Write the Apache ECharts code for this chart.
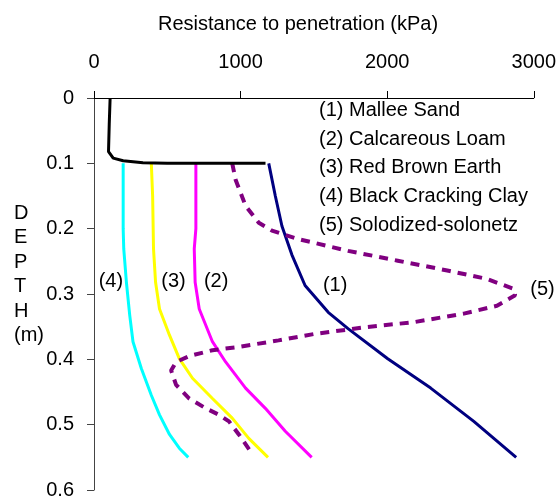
<!DOCTYPE html>
<html>
<head>
<meta charset="utf-8">
<script src="https://cdn.jsdelivr.net/npm/echarts@6/dist/echarts.min.js"></script>
<style>
  html, body { margin: 0; padding: 0; background: #fff; }
  #chart { width: 559px; height: 500px; }
</style>
</head>
<body>
<div id="chart"></div>
<script>
// x ticks, y ticks
var kpaTicks = [0, 1000, 2000, 3000];
var depthTicks = [0, 0.1, 0.2, 0.3, 0.4, 0.5, 0.6];

// surface layer (black)
var topDepth = [0, 0.04, 0.082, 0.092, 0.096, 0.099, 0.1, 0.1];
var topKpa = [110, 104, 99, 131, 199, 334, 500, 1170];

// (1) Mallee Sand
var malleeDepth = [0.1, 0.15, 0.196, 0.24, 0.287, 0.328, 0.353, 0.399, 0.444, 0.495, 0.55];
var malleeKpa = [1192, 1237, 1282, 1350, 1440, 1598, 1733, 2004, 2297, 2591, 2880];

// (2) Calcareous Loam
var loamDepth = [0.1, 0.2, 0.231, 0.282, 0.323, 0.373, 0.404, 0.444, 0.475, 0.51, 0.55];
var loamKpa = [695, 695, 684, 690, 718, 808, 898, 1034, 1169, 1305, 1485];

// (3) Red Brown Earth
var redDepth = [0.1, 0.15, 0.231, 0.282, 0.323, 0.363, 0.399, 0.429, 0.46, 0.49, 0.521, 0.55];
var redKpa = [391, 400, 406, 420, 447, 515, 582, 672, 808, 943, 1056, 1187];

// (4) Black Cracking Clay
var clayDepth = [0.1, 0.2, 0.231, 0.282, 0.333, 0.373, 0.414, 0.455, 0.485, 0.515, 0.536, 0.55];
var clayKpa = [199, 199, 203, 221, 244, 266, 323, 391, 447, 515, 582, 643];

// (5) Solodized-solonetz
var soloDepth = [0.1, 0.125, 0.165, 0.191, 0.203, 0.216, 0.234, 0.249, 0.264, 0.277, 0.292, 0.302,
  0.318, 0.33, 0.343, 0.351, 0.361, 0.371, 0.381, 0.386, 0.395, 0.404, 0.417, 0.439, 0.46,
  0.475, 0.485, 0.495, 0.515, 0.541];
var soloKpa = [943, 966, 1034, 1124, 1214, 1395, 1733, 2072, 2410, 2681, 2862, 2873,
  2749, 2523, 2185, 1846, 1508, 1259, 988, 808, 650, 560, 526, 560, 650,
  763, 853, 921, 988, 1068];

var legendNames = ['(1) Mallee Sand', '(2) Calcareous Loam', '(3) Red Brown Earth',
  '(4) Black Cracking Clay', '(5) Solodized-solonetz'];

// curve tags
var tagText = ['(4)', '(3)', '(2)', '(1)', '(5)'];
var tagKpa = [115, 542, 833, 1645, 3060];
var tagDepth = [0.2816, 0.2816, 0.2816, 0.287, 0.293];

function pairs(xs, ys) {
  var out = [];
  for (var i = 0; i < xs.length; i++) out.push([xs[i], ys[i]]);
  return out;
}

var font = 'Arial, "Liberation Sans", sans-serif';
var chart = echarts.init(document.getElementById('chart'));

var tags = [];
for (var i = 0; i < tagText.length; i++) {
  tags.push({ value: [tagKpa[i], tagDepth[i]], name: tagText[i] });
}

var option = {
  animation: false,
  backgroundColor: '#fff',
  title: {
    text: 'Resistance to penetration (kPa)',
    left: 158, top: 14, padding: 0,
    textStyle: { fontFamily: font, fontSize: 20, fontWeight: 'normal', color: '#000' }
  },
  grid: { left: 94, right: 22, top: 98, bottom: 8 },
  xAxis: {
    type: 'value', position: 'top',
    min: kpaTicks[0], max: kpaTicks[kpaTicks.length - 1], interval: 1000,
    axisLine: { show: true, lineStyle: { color: '#000', width: 1 } },
    axisTick: { show: true, length: 7, lineStyle: { color: '#000' } },
    axisLabel: {
      margin: 26, fontFamily: font, fontSize: 20, color: '#000',
      formatter: function (v) { return String(v); }
    },
    splitLine: { show: false }
  },
  yAxis: {
    type: 'value', inverse: true,
    min: depthTicks[0], max: depthTicks[depthTicks.length - 1], interval: 0.1,
    axisLine: { show: true, lineStyle: { color: '#444', width: 1 } },
    axisTick: { show: true, length: 7, lineStyle: { color: '#444' } },
    axisLabel: { margin: 20, fontFamily: font, fontSize: 20, color: '#000' },
    splitLine: { show: false }
  },
  graphic: [
    {
      type: 'text', left: 14, top: 201,
      style: { text: 'D\nE\nP\nT\nH\n(m)', font: '20px ' + font, fill: '#000', lineHeight: 24.5 }
    },
    {
      type: 'text', left: 319, top: 96,
      style: { text: legendNames.join('\n'), font: '20px ' + font, fill: '#000', lineHeight: 28.75 }
    }
  ],
  series: [
    {
      type: 'line', data: pairs(topKpa, topDepth), showSymbol: false,
      lineStyle: { color: '#000', width: 3 }, z: 5
    },
    {
      name: legendNames[0], type: 'line', data: pairs(malleeKpa, malleeDepth), showSymbol: false,
      lineStyle: { color: '#000080', width: 3 }
    },
    {
      name: legendNames[1], type: 'line', data: pairs(loamKpa, loamDepth), showSymbol: false,
      lineStyle: { color: '#ff00ff', width: 3 }
    },
    {
      name: legendNames[2], type: 'line', data: pairs(redKpa, redDepth), showSymbol: false,
      lineStyle: { color: '#ffff00', width: 3 }
    },
    {
      name: legendNames[3], type: 'line', data: pairs(clayKpa, clayDepth), showSymbol: false,
      lineStyle: { color: '#00ffff', width: 3 }
    },
    {
      name: legendNames[4], type: 'line', data: pairs(soloKpa, soloDepth), showSymbol: false,
      lineStyle: { color: '#800080', width: 4, type: [9, 7] }
    },
    {
      type: 'scatter', data: tags, clip: false, symbolSize: 0.1,
      itemStyle: { color: '#000', opacity: 1 },
      label: {
        show: true, position: 'inside', formatter: '{b}',
        fontFamily: font, fontSize: 20, color: '#000'
      }
    }
  ]
};
chart.setOption(option);
</script>
</body>
</html>
